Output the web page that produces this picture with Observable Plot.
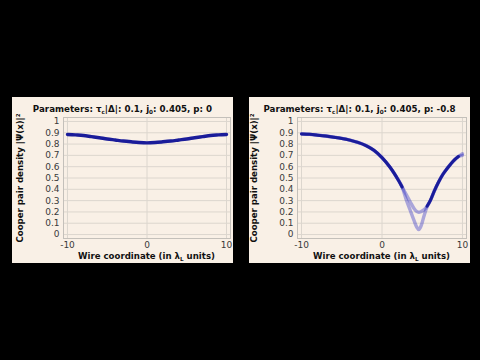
<!DOCTYPE html>
<html><head><meta charset="utf-8">
<script src="https://cdn.jsdelivr.net/npm/d3@7"></script>
<script src="https://cdn.jsdelivr.net/npm/@observablehq/plot@0.6"></script>
<style>
html,body{margin:0;padding:0;background:#000;width:480px;height:360px;overflow:hidden;font-family:"DejaVu Sans",sans-serif;}
.panel{position:absolute;top:97px;width:221px;height:166px;background:#f9f0e6;}
.panel svg{position:absolute;left:0;top:0;}
.title{position:absolute;left:0;width:221px;top:6px;line-height:12px;text-align:center;font-weight:bold;font-size:8.7px;color:#111;white-space:nowrap;}
.xlabel{position:absolute;top:153px;line-height:12px;text-align:center;font-weight:bold;font-size:8.6px;color:#111;white-space:nowrap;}
sub{font-size:65%;line-height:0;vertical-align:-0.3em;}
</style>
</head><body>
<div class="panel" id="p1" style="left:12px"></div>
<div class="panel" id="p2" style="left:249px"></div>
<script>
// ---- data ----
const xTicks = [-10, 0, 10];
const yTicks = [0, 0.1, 0.2, 0.3, 0.4, 0.5, 0.6, 0.7, 0.8, 0.9, 1];
const yLabel = "Cooper pair density |Ψ(x)|²";

const xLeft = [-10,-9,-8,-7,-6,-5,-4,-3,-2,-1,0,1,2,3,4,5,6,7,8,9,10];
const densityLeft = [0.885,0.881,0.876,0.866,0.856,0.845,0.836,0.827,0.820,0.814,0.811,0.814,0.820,0.827,0.836,0.845,0.856,0.866,0.876,0.881,0.885];

const xRight = [-10,-9,-8,-7,-6,-5,-4,-3,-2,-1,0,1,2,2.5,3,3.5,4,4.3,4.57,4.85,5.2,5.6,6,6.5,7,7.5,8,8.5,9,9.5,10];
const densityUpper = [0.89,0.886,0.879,0.871,0.861,0.85,0.835,0.815,0.787,0.745,0.68,0.595,0.485,0.42,0.355,0.29,0.228,0.205,0.197,0.203,0.218,0.25,0.30,0.385,0.46,0.525,0.575,0.62,0.66,0.69,0.715];
const densityLower = [0.89,0.886,0.879,0.871,0.861,0.85,0.835,0.815,0.787,0.745,0.68,0.595,0.485,0.42,0.31,0.215,0.12,0.068,0.044,0.075,0.16,0.245,0.30,0.385,0.46,0.525,0.575,0.62,0.66,0.69,0.70];

const panels = [
  {id:"p1", title:'Parameters: τ<sub>c</sub>|Δ|: 0.1, j<sub>0</sub>: 0.405, p: 0', ml:51, mr:3},
  {id:"p2", title:'Parameters: τ<sub>c</sub>|Δ|: 0.1, j<sub>0</sub>: 0.405, p: -0.8', ml:48, mr:4}
];
const xLabelHtml = 'Wire coordinate (in λ<sub>L</sub> units)';

const navy = "#1a1c9a";
const lightBlue = "#2a2ac4";
const W = 221, H = 166, MT = 20, MB = 25;

function basePlot(p, lineMarks) {
  return Plot.plot({
    width: W, height: H,
    marginLeft: p.ml, marginRight: p.mr, marginTop: MT, marginBottom: MB,
    style: {background: "transparent", fontFamily: "DejaVu Sans", fontSize: "9px", color: "#3a3a3a"},
    x: {domain: [-10.5, 10.5], label: null},
    y: {domain: [-0.035, 1.035], label: null},
    marks: [
      Plot.gridY(yTicks, {stroke: "#dcd6ce", strokeOpacity: 1}),
      Plot.gridX(xTicks, {stroke: "#dcd6ce", strokeOpacity: 1}),
      Plot.frame({stroke: "#c4c0ba"}),
      Plot.axisY(yTicks, {tickSize: 0, tickPadding: 4, tickFormat: d => String(d), label: null}),
      Plot.axisX(xTicks, {tickSize: 0, tickPadding: 3, tickFormat: d => String(d), label: null}),
      Plot.text([yLabel], {text: d => d, frameAnchor: "left", textAnchor: "middle", lineAnchor: "middle", rotate: -90, dx: -43, fontWeight: "bold", fontSize: 8.6, fill: "#111"}),
      ...lineMarks
    ]
  });
}

// left panel
const leftData = xLeft.map((x, i) => ({x, y: densityLeft[i]}));
const chart1 = basePlot(panels[0], [
  Plot.line(leftData, {x: "x", y: "y", stroke: navy, strokeWidth: 3.4, curve: "catmull-rom"})
]);

// right panel
const upperData = xRight.map((x, i) => ({x, y: densityUpper[i]}));
const lowerData = xRight.map((x, i) => ({x, y: densityLower[i]}));
const sharedData = xRight.map((x, i) => ({x, y: Math.abs(densityUpper[i] - densityLower[i]) < 0.012 ? densityUpper[i] : NaN}));
const chart2 = basePlot(panels[1], [
  Plot.line(lowerData, {x: "x", y: "y", stroke: lightBlue, strokeOpacity: 0.38, strokeWidth: 3.4, curve: "catmull-rom"}),
  Plot.line(upperData, {x: "x", y: "y", stroke: lightBlue, strokeOpacity: 0.38, strokeWidth: 3.4, curve: "catmull-rom"}),
  Plot.line(sharedData, {x: "x", y: "y", stroke: navy, strokeWidth: 3.0, curve: "catmull-rom"})
]);

[chart1, chart2].forEach((chart, k) => {
  const p = panels[k];
  const el = document.getElementById(p.id);
  el.appendChild(chart);
  const t = document.createElement("div");
  t.className = "title"; t.innerHTML = p.title; el.appendChild(t);
  const xl = document.createElement("div");
  xl.className = "xlabel"; xl.innerHTML = xLabelHtml;
  xl.style.left = p.ml + "px"; xl.style.width = (W - p.ml - p.mr) + "px";
  el.appendChild(xl);
});
</script>
</body></html>
